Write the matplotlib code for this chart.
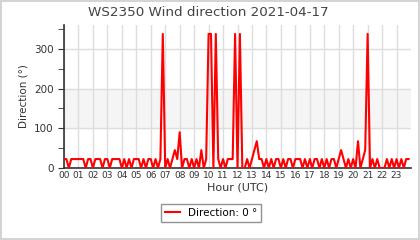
import numpy as np
import pandas as pd
import matplotlib
matplotlib.use("Agg")
import matplotlib.pyplot as plt
from matplotlib.ticker import MultipleLocator

# wind direction (degrees), one value every 10 minutes, 00:00 .. 23:50
direction = [
    22.5, 22.5, 0, 22.5, 22.5, 22.5,        # 00
    22.5, 22.5, 22.5, 0, 22.5, 22.5,        # 01
    0, 22.5, 22.5, 22.5, 0, 22.5,           # 02
    22.5, 0, 22.5, 22.5, 22.5, 22.5,        # 03
    0, 22.5, 0, 22.5, 0, 22.5,              # 04
    22.5, 22.5, 0, 22.5, 0, 22.5,           # 05
    22.5, 0, 22.5, 0, 22.5, 337.5,          # 06
    0, 22.5, 0, 22.5, 45, 22.5,             # 07
    90, 0, 22.5, 22.5, 0, 22.5,             # 08
    0, 22.5, 0, 45, 0, 22.5,                # 09
    337.5, 337.5, 0, 337.5, 22.5, 0,        # 10
    22.5, 0, 22.5, 22.5, 22.5, 337.5,       # 11
    0, 337.5, 0, 0, 22.5, 0,                # 12
    22.5, 45, 67.5, 22.5, 22.5, 0,          # 13
    22.5, 0, 22.5, 0, 22.5, 22.5,           # 14
    0, 22.5, 0, 22.5, 22.5, 0,              # 15
    22.5, 22.5, 22.5, 0, 22.5, 0,           # 16
    22.5, 0, 22.5, 22.5, 0, 22.5,           # 17
    0, 22.5, 0, 22.5, 22.5, 0,              # 18
    22.5, 45, 22.5, 0, 22.5, 0,             # 19
    22.5, 0, 67.5, 0, 22.5, 45,             # 20
    337.5, 0, 22.5, 0, 22.5, 0,             # 21
    0, 0, 22.5, 0, 22.5, 0,                 # 22
    22.5, 0, 22.5, 0, 22.5, 22.5,           # 23
]
times = pd.date_range("2021-04-17 00:00", periods=len(direction), freq="10min")
hours = (times - times[0]).total_seconds() / 3600.0

hour_labels = [f"{h:02d}" for h in range(24)]
title = "WS2350 Wind direction 2021-04-17"
legend_label = "Direction: 0 °"

fig = plt.figure(figsize=(4.2, 2.4), dpi=100)
fig.patch.set_facecolor("white")
fig.patch.set_edgecolor("#d4d4d4")
fig.patch.set_linewidth(1.5)
ax = fig.add_axes([64/420, 1-168/240, (411-64)/420, (168-25)/240])

ax.axhspan(100, 200, color="#f5f5f5", zorder=0)
ax.plot(hours, direction, color="#ff0000", lw=1.5, zorder=3, label=legend_label)

ax.set_xlim(0, 24)
ax.set_ylim(0, 360)
ax.set_xticks(range(24))
ax.set_xticklabels(hour_labels, fontsize=6.5, color="#333333")
ax.tick_params(axis="x", length=0, pad=2)
ax.set_yticks([0, 100, 200, 300])
ax.yaxis.set_minor_locator(MultipleLocator(50))
ax.tick_params(axis="y", which="both", length=4, color="#333333", labelsize=7.5, labelcolor="#333333")
ax.grid(True, axis="both", which="major", color="#dddddd", lw=1)
ax.set_axisbelow(True)
for s in ["top", "right"]:
    ax.spines[s].set_visible(False)
for s in ["left", "bottom"]:
    ax.spines[s].set_color("#333333")
    ax.spines[s].set_linewidth(1.2)

fig.text(208.5/420, 1-12/240, title, fontsize=9.7, color="#444444", ha="center", va="center")
ax.set_xlabel("Hour (UTC)", fontsize=8, color="#333333", labelpad=2)
ax.set_ylabel("Direction (°)", fontsize=7.5, color="#333333", labelpad=4)

leg = fig.legend(loc="center", bbox_to_anchor=(211/420, 1-213/240), fontsize=7.5,
                 frameon=True, fancybox=False, edgecolor="#777777", handlelength=1.4,
                 borderpad=0.4)
leg.get_frame().set_linewidth(1)

fig.savefig("out.png", dpi=100)
